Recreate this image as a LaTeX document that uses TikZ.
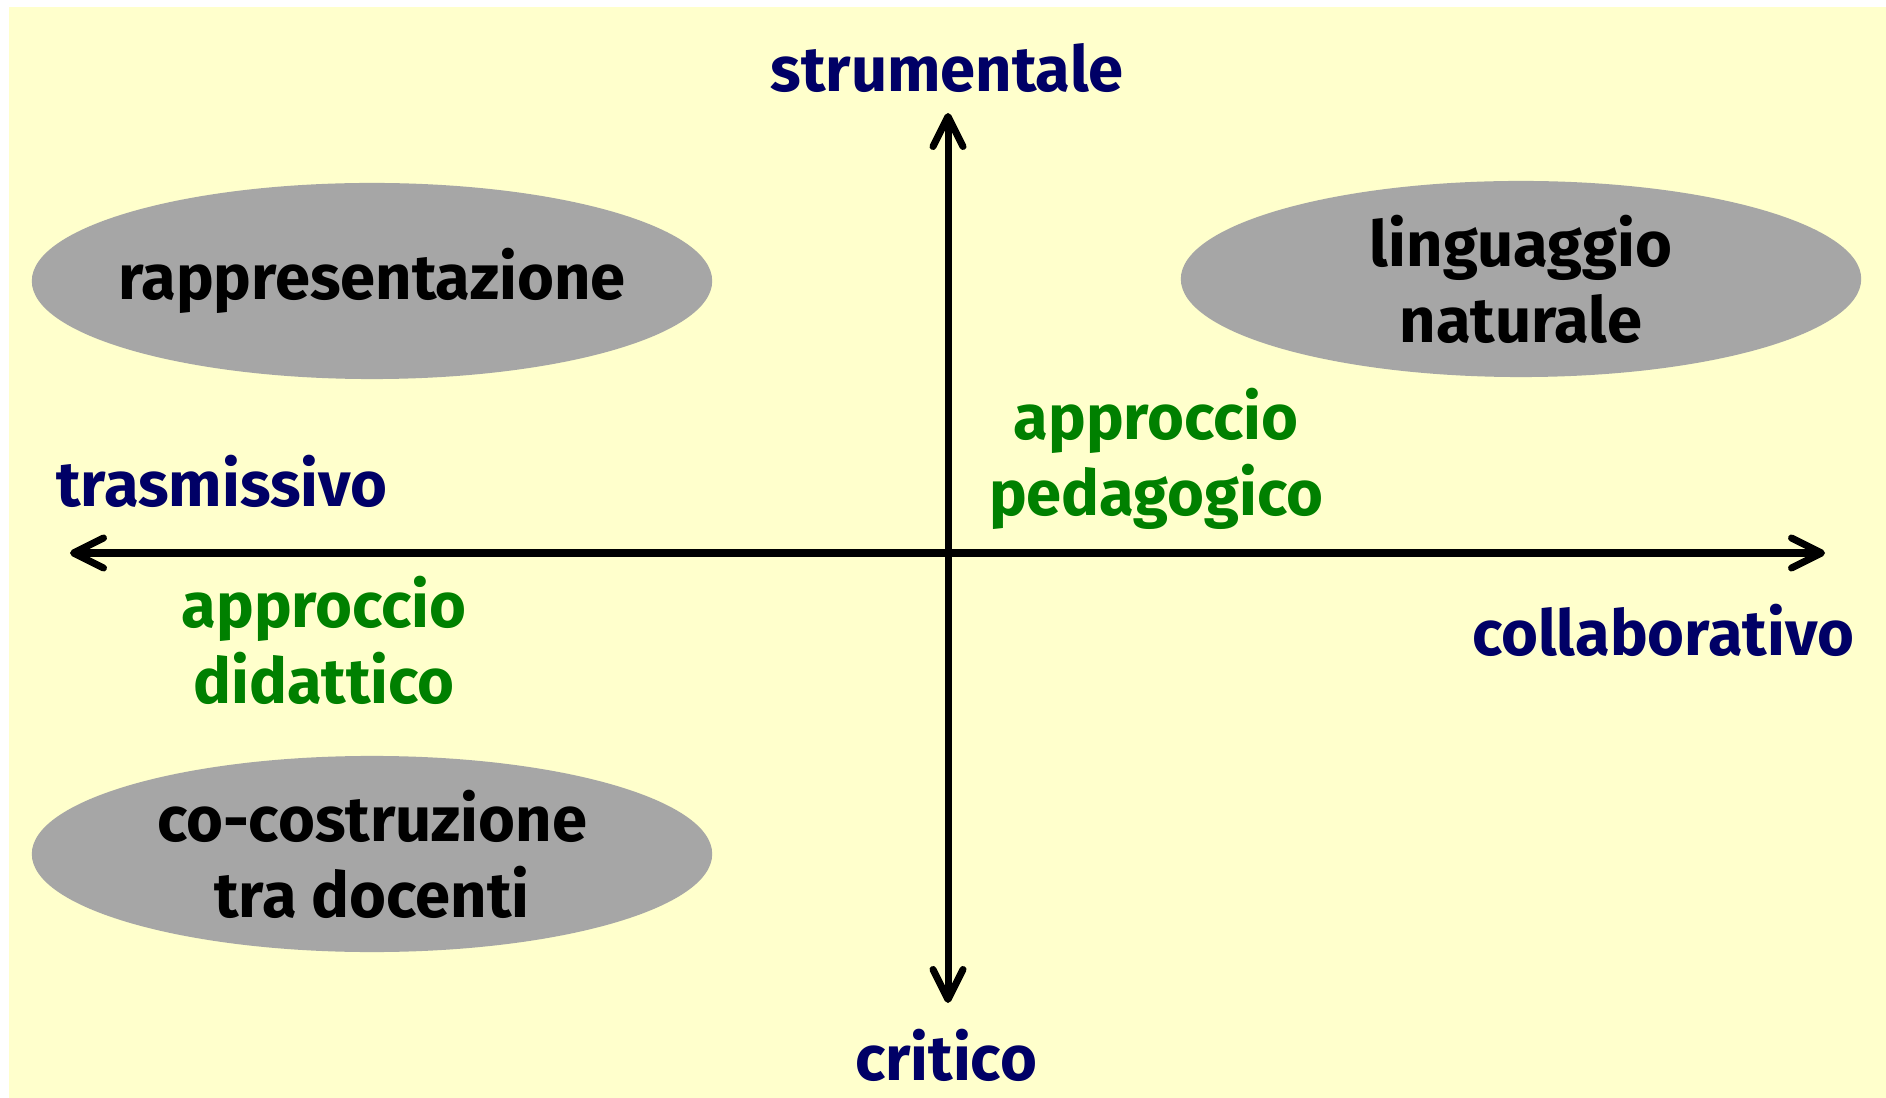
\documentclass[tikz,border=0pt]{standalone}
\usepackage{fontspec}
\setmainfont{Fira Sans}[Ligatures=NoCommon]
\usetikzlibrary{shapes.geometric,arrows.meta}
\definecolor{fondo}{HTML}{FFFFCC}
\definecolor{grigio}{HTML}{A6A6A6}
\definecolor{blu}{HTML}{000066}
\definecolor{verde}{HTML}{008000}
\begin{document}
\begin{tikzpicture}[x=0.01cm, y=-0.01cm]
\tikzset{ovale/.style={ellipse, fill=grigio, minimum width=6.8cm, minimum height=1.96cm, inner xsep=-1cm, inner ysep=-0.2cm, align=center, font=\fontsize{18}{21.6}\selectfont\bfseries},
polo/.style={text=blu, font=\fontsize{18}{21.6}\selectfont\bfseries},
approccio/.style={text=verde, align=center, font=\fontsize{18}{21.6}\selectfont\bfseries},
asse/.style={line width=0.07cm, {Straight Barb[length=0.3cm, width=0.3cm, round]}-{Straight Barb[length=0.3cm, width=0.3cm, round]}}}
\useasboundingbox (0,0) rectangle (1886,1098);
\fill[fondo] (9,7) rectangle (1886,1098);
\node[ovale] (R) at (372,281) {rappresentazione};
\node[ovale] (L) at (1521,279) {linguaggio\\naturale};
\node[ovale] (C) at (372,854) {co-costruzione\\tra docenti};
\coordinate (W) at (70,553);
\coordinate (E) at (1825,553);
\coordinate (N) at (948,113);
\coordinate (S) at (948,1003);
\draw[asse] (W) -- (E);
\draw[asse] (S) -- (N);
\node[polo] (strum) at (947,68) {strumentale};
\node[polo] (crit) at (946,1055) {critico};
\node[polo] (trasm) at (222,481) {trasmissivo};
\node[polo] (collab) at (1663,630) {collaborativo};
\node[approccio] (ped) at (1156,459) {approccio\\pedagogico};
\node[approccio] (did) at (324,640) {approccio\\didattico};
\end{tikzpicture}
\end{document}
